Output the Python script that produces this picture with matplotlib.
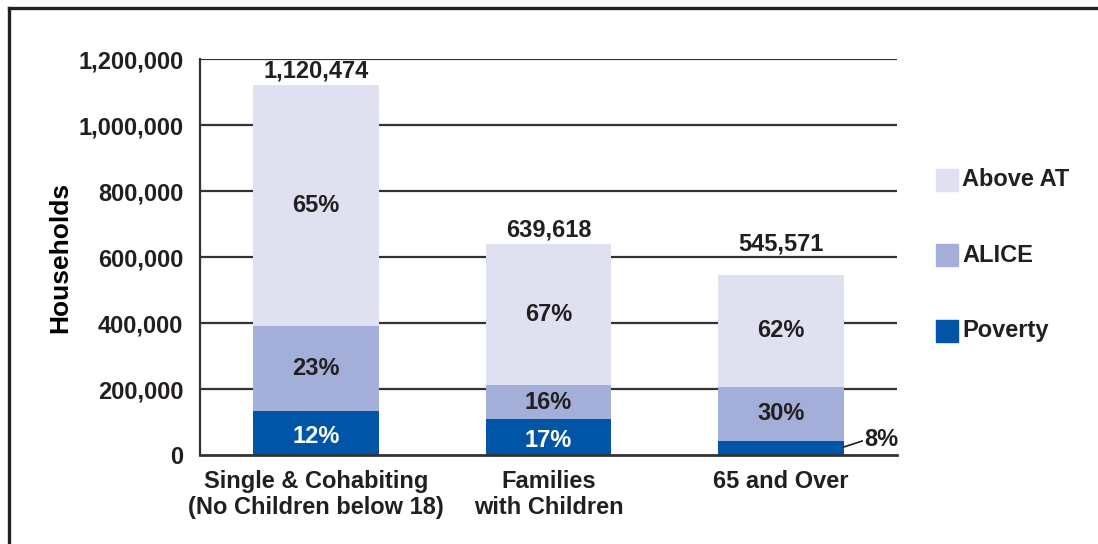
import numpy as np
import matplotlib.pyplot as plt
from matplotlib.lines import Line2D
from matplotlib.patches import Rectangle

# data
categories = ['Single & Cohabiting\n(No Children below 18)', 'Families\nwith Children', '65 and Over']
totals = [1120474, 639618, 545571]
poverty_pct = [12, 17, 8]
alice_pct = [23, 16, 30]
above_pct = [65, 67, 62]
series_names = ['Above AT', 'ALICE', 'Poverty']
yticks = [0, 200000, 400000, 600000, 800000, 1000000, 1200000]

# colours / style
c_above = '#DFE1F0'
c_alice = '#A3AED9'
c_pov = '#0055A6'
txt = '#231F20'
fs = 17
plt.rcParams['font.family'] = ['Liberation Sans', 'DejaVu Sans']
plt.rcParams['font.weight'] = 'bold'

totals = np.array(totals, dtype=float)
pov = totals * np.array(poverty_pct) / 100
alice = totals * np.array(alice_pct) / 100
above = totals - pov - alice

fig = plt.figure(figsize=(10.98, 5.44), dpi=100)
ax = fig.add_axes([200 / 1098, 1 - 455 / 544, 697 / 1098, 396 / 544])

x = np.arange(len(categories))
w = 0.54

# gridlines behind bars
for t in yticks[1:]:
    ax.axhline(t, color='#333333', lw=1.6, zorder=1)

ax.bar(x, pov, w, color=c_pov, zorder=2)
ax.bar(x, alice, w, bottom=pov, color=c_alice, zorder=2)
ax.bar(x, above, w, bottom=pov + alice, color=c_above, zorder=2)

ax.set_xlim(-0.5, 2.5)
ax.set_ylim(0, 1200000)
ax.set_yticks(yticks)
ax.set_yticklabels(['{:,}'.format(t) for t in yticks], fontsize=fs, color=txt, fontweight='bold')
ax.set_xticks(x)
ax.set_xticklabels(categories, fontsize=fs, color=txt, fontweight='bold', linespacing=1.15)
ax.tick_params(axis='y', length=0, pad=12)
ax.tick_params(axis='x', length=0, pad=11)
for s in ['top', 'right']:
    ax.spines[s].set_visible(False)
ax.spines['left'].set_color('#333333')
ax.spines['left'].set_linewidth(1.6)
ax.spines['bottom'].set_color('#333333')
ax.spines['bottom'].set_linewidth(2)
ax.spines['left'].set_zorder(3)
ax.spines['bottom'].set_zorder(3)
ax.set_ylabel('Households', fontsize=19, color='black', fontweight='bold')
ax.yaxis.set_label_coords(-128 / 697, 0.5)

# segment labels
total_offsets = [2, 2, 14]  # last label sits above the gridline
for i in range(len(x)):
    ax.text(x[i], pov[i] + alice[i] + above[i] / 2, f'{above_pct[i]}%', ha='center', va='center',
            fontsize=fs, color=txt, fontweight='bold', zorder=4)
    ax.text(x[i], pov[i] + alice[i] / 2, f'{alice_pct[i]}%', ha='center', va='center',
            fontsize=fs, color=txt, fontweight='bold', zorder=4)
    if poverty_pct[i] >= 10:
        ax.text(x[i], pov[i] / 2 - 10000, f'{poverty_pct[i]}%', ha='center', va='center',
                fontsize=fs, color='white', fontweight='bold', zorder=4)
    else:
        ax.plot([x[i] + w / 2, x[i] + 0.35], [pov[i] * 0.55, pov[i] * 0.97], color=txt, lw=1.2, zorder=4,
                clip_on=False)
        ax.text(x[i] + 0.36, pov[i] * 1.05, f'{poverty_pct[i]}%', ha='left', va='center',
                fontsize=fs, color=txt, fontweight='bold', zorder=4, clip_on=False)
    ax.annotate('{:,}'.format(int(totals[i])), (x[i], totals[i]), xytext=(0, total_offsets[i]),
                textcoords='offset points', ha='center', va='bottom', fontsize=fs, color=txt,
                fontweight='bold')

# legend
leg_y = [180, 255, 331]
for name, col, yy in zip(series_names, [c_above, c_alice, c_pov], leg_y):
    fig.add_artist(Rectangle((936 / 1098, 1 - (yy + 11) / 544), 22 / 1098, 22 / 544,
                             transform=fig.transFigure, color=col))
    fig.text(962 / 1098, 1 - yy / 544, name, ha='left', va='center', fontsize=fs,
             color=txt, fontweight='bold')

# outer frame (left and top)
fig.add_artist(Line2D([9 / 1098, 9 / 1098], [0, 1 - 8 / 544], transform=fig.transFigure,
                      color='#222222', lw=2.4))
fig.add_artist(Line2D([9 / 1098, 1], [1 - 8 / 544, 1 - 8 / 544], transform=fig.transFigure,
                      color='#222222', lw=2.4))

fig.savefig('out.png', dpi=100)
